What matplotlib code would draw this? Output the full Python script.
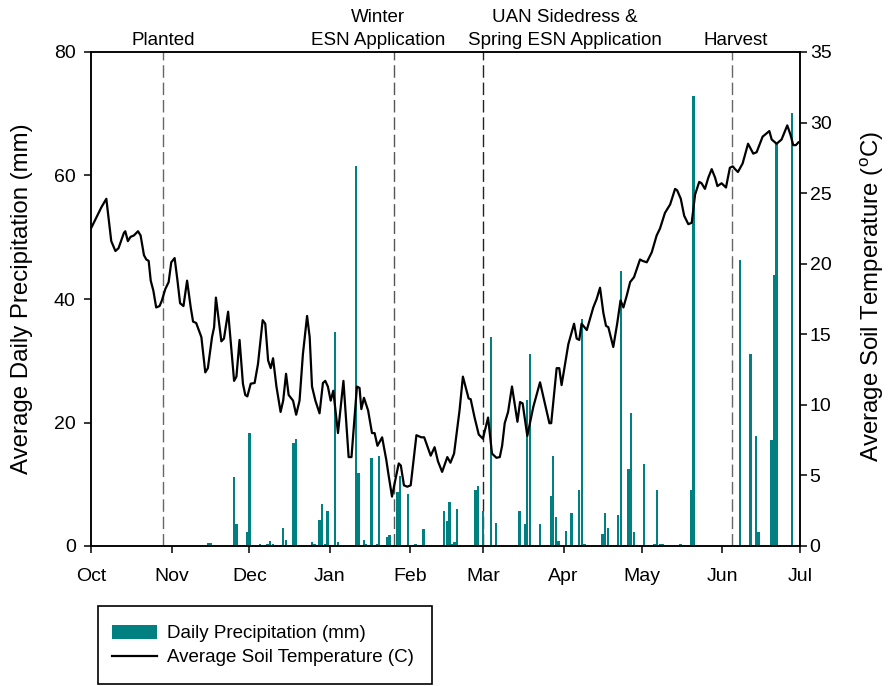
import matplotlib
matplotlib.use("Agg")
import matplotlib.pyplot as plt
from matplotlib.patches import Patch, Rectangle
from matplotlib.lines import Line2D

plt.rcParams["font.family"] = ["Liberation Sans", "DejaVu Sans"]
plt.rcParams["mathtext.default"] = "regular"

# Season runs Oct 1 (day 0) to Jul 1 (day 273)
month_days = [0, 31, 61, 92, 123, 151, 182, 212, 243, 273]
month_labels = ["Oct", "Nov", "Dec", "Jan", "Feb", "Mar", "Apr", "May", "Jun", "Jul"]

# Daily precipitation (mm) by day of season
precip_day = [45, 46, 55, 56, 60, 61, 65, 68, 69, 70, 74, 75, 78, 79, 85, 86, 88, 89,
              90, 91, 92, 94, 95, 102, 103, 105, 106, 108, 110, 111, 114, 115, 118,
              119, 122, 125, 128, 136, 137, 138, 139, 140, 141, 148, 149, 151, 154,
              156, 165, 167, 168, 169, 173, 177, 178, 179, 180, 183, 185, 188, 189,
              190, 197, 198, 199, 203, 204, 207, 208, 209, 213, 217, 218, 219, 220,
              227, 228, 231, 232, 250, 254, 256, 257, 262, 263, 264, 270]
precip_mm = [0.5, 0.5, 11.2, 3.5, 2.3, 18.3, 0.4, 0.3, 0.8, 0.3, 2.9, 1.0, 16.7, 17.3,
             0.7, 0.3, 4.2, 6.8, 0.3, 5.7, 0.2, 34.7, 0.6, 61.5, 11.9, 1.0, 0.3, 14.2,
             0.3, 14.5, 1.5, 1.8, 8.8, 11.3, 8.4, 0.3, 2.7, 5.7, 4.1, 7.1, 0.4, 0.7,
             6.0, 9.1, 9.7, 5.7, 33.8, 3.8, 5.6, 3.6, 23.6, 31.1, 3.6, 8.1, 14.5, 4.75,
             0.8, 2.5, 5.3, 9.0, 36.8, 0.3, 2.0, 5.3, 2.9, 5.0, 44.6, 12.4, 21.6, 2.3,
             13.3, 0.3, 9.1, 0.3, 0.3, 0.4, 0.2, 9.0, 72.8, 46.3, 31.1, 17.8, 2.3,
             17.1, 43.9, 65.2, 70.1]

# Average soil temperature (C) by day of season
temp_day = [0.0, 4.0, 5.9, 7.8, 9.4, 10.6, 12.7, 13.2, 14.2, 15.2, 16.5, 18.1, 19.1,
            20.4, 21.3, 22.2, 23.0, 24.0, 25.1, 26.4, 27.3, 28.6, 29.9, 30.9, 32.2,
            33.3, 34.3, 35.6, 37.0, 38.4, 39.3, 40.5, 42.5, 44.0, 45.0, 46.6, 47.4,
            48.1, 50.2, 51.2, 52.8, 55.1, 56.0, 57.2, 58.5, 59.4, 60.2, 61.5, 63.0,
            64.3, 66.1, 67.1, 68.2, 69.2, 70.1, 71.4, 73.0, 74.0, 75.1, 76.1, 77.8,
            79.0, 80.3, 81.6, 83.2, 84.2, 85.1, 86.4, 88.0, 89.3, 90.2, 91.2, 92.3,
            93.3, 95.1, 97.2, 99.2, 100.3, 102.4, 103.4, 104.1, 105.1, 106.7, 108.2,
            109.2, 110.3, 112.1, 113.7, 114.6, 115.9, 117.2, 118.5, 119.3, 120.5,
            121.8, 123.1, 125.3, 127.2, 128.3, 130.8, 132.3, 133.6, 135.2, 137.2,
            138.4, 139.8, 141.9, 143.2, 145.4, 146.2, 147.7, 149.3, 150.9, 152.9,
            154.4, 156.1, 157.4, 158.3, 159.3, 160.6, 162.1, 164.2, 165.2, 166.2,
            168.0, 170.3, 172.9, 176.5, 177.2, 179.3, 180.3, 181.2, 183.8, 186.0,
            187.0, 188.0, 188.9, 190.9, 193.4, 194.7, 196.0, 197.3, 198.3, 199.2,
            201.1, 202.6, 203.9, 205.0, 206.3, 207.6, 209.1, 210.1, 211.4, 212.4,
            214.0, 215.9, 217.8, 219.1, 221.0, 223.0, 224.9, 225.7, 227.1, 228.4,
            230.0, 231.3, 232.6, 234.2, 235.1, 236.4, 237.7, 239.0, 240.3, 241.2,
            242.8, 244.5, 246.0, 247.1, 248.0, 249.1, 250.9, 253.0, 255.0, 256.3,
            258.6, 259.9, 261.2, 262.1, 264.0, 265.9, 268.1, 269.4, 270.4, 271.4,
            272.4]
temp_c = [22.5, 24.0, 24.6, 21.6, 20.9, 21.1, 22.2, 22.3, 21.6, 21.9, 22.0, 22.3, 22.0,
          20.6, 20.3, 20.2, 18.8, 18.1, 16.9, 17.0, 17.4, 18.2, 18.7, 20.1, 20.4,
          18.8, 17.2, 17.0, 18.8, 16.9, 15.9, 15.8, 14.8, 12.3, 12.6, 14.8, 15.5,
          17.6, 14.5, 14.7, 16.6, 11.7, 12.0, 14.6, 11.5, 10.7, 10.6, 11.5, 11.55,
          12.9, 16.0, 15.75, 13.15, 12.6, 13.3, 11.3, 9.5, 10.3, 12.2, 10.7, 10.3,
          9.3, 10.3, 13.6, 16.3, 14.8, 11.3, 10.3, 9.4, 11.55, 11.7, 11.3, 10.3,
          11.0, 8.0, 11.7, 6.3, 6.3, 11.3, 11.2, 9.7, 10.5, 9.6, 8.0,
          8.0, 7.1, 7.7, 6.1, 5.0, 3.5, 4.7, 5.85, 5.7, 4.3,
          4.2, 4.3, 7.85, 7.7, 7.7, 6.4, 7.0, 6.0, 5.25, 6.3,
          5.9, 6.55, 9.6, 12.0, 10.45, 10.4, 9.1, 7.9, 7.6, 9.1,
          6.55, 6.25, 6.3, 7.1, 8.7, 9.5, 11.3, 8.8, 10.2, 10.1,
          7.8, 9.85, 11.6, 8.7, 8.7, 12.6, 12.6, 11.4, 14.3, 15.75,
          14.7, 14.6, 15.75, 15.3, 16.9, 17.5, 18.3, 16.5, 15.6, 15.5,
          14.1, 15.75, 17.4, 16.9, 17.75, 18.7, 19.05, 19.6, 20.3, 20.2,
          20.1, 20.8, 22.0, 22.5, 23.6, 24.2, 25.3, 25.2, 24.6, 23.4,
          22.8, 22.9, 24.9, 25.8, 25.7, 25.3, 26.1, 26.7, 26.1, 25.5,
          25.7, 25.4, 26.8, 26.9, 26.7, 26.5, 27.1, 28.5, 27.8, 27.9,
          29.0, 29.2, 29.4, 28.8, 28.5, 28.8, 29.8, 29.1, 28.4, 28.4,
          28.6]

# Management events (day of season) and their captions
event_day = [27.8, 116.5, 151.0, 247.0]
event_color = ["#666666", "#555555", "#222222", "#666666"]
event_text = ["Planted", "Winter\nESN Application",
              "UAN Sidedress &\nSpring ESN Application", "Harvest"]
event_text_x = [27.8, 110.5, 182.5, 248.4]

teal = "#008080"
W, H = 891, 686

fig = plt.figure(figsize=(W / 100, H / 100), dpi=100)
ax = fig.add_axes([91 / W, 1 - 546 / H, 709 / W, 494 / H])
ax2 = ax.twinx()

for d, c in zip(event_day, event_color):
    ax.axvline(d, color=c, lw=1.0, dashes=(9, 3.5), zorder=1)

ax.bar(precip_day, precip_mm, width=0.9, color=teal, edgecolor="none", zorder=2)
ax2.plot(temp_day, temp_c, color="black", lw=1.6, zorder=3)

ax.set_xlim(0, 273)
ax.set_ylim(0, 80)
ax2.set_ylim(0, 35)
ax.set_xticks(month_days)
ax.set_xticklabels(month_labels)
ax.set_yticks([0, 20, 40, 60, 80])
ax2.set_yticks([0, 5, 10, 15, 20, 25, 30, 35])

for a in (ax, ax2):
    for s in a.spines.values():
        s.set_linewidth(1.1)
    a.tick_params(width=1.1, length=5, labelsize=14, direction="out")
ax.tick_params(axis="x", pad=11)
ax.tick_params(axis="y", pad=6)
ax2.tick_params(axis="y", pad=2)

fig.text(22 / W, 1 - 299 / H, "Average Daily Precipitation (mm)", rotation=90,
         ha="center", va="center", fontsize=17.3)
fig.text(872 / W, 1 - 297 / H, "Average Soil Temperature ($^{o}$C)", rotation=90,
         ha="center", va="center", fontsize=17.3)

for x, t in zip(event_text_x, event_text):
    ax.annotate(t, xy=(x, 1.0), xycoords=("data", "axes fraction"),
                xytext=(0, 2.5), textcoords="offset points",
                ha="center", va="bottom", fontsize=13.5, linespacing=1.45)

# Legend entries without their own frame, boxed by a separate rectangle
handles = [Patch(facecolor=teal, edgecolor="none"),
           Line2D([], [], color="black", lw=1.6)]
fig.legend(handles, ["Daily Precipitation (mm)", "Average Soil Temperature (C)"],
           loc="center left", bbox_to_anchor=(112 / W, 1 - 645.5 / H),
           frameon=False, fontsize=13.5, borderpad=0, borderaxespad=0,
           handlelength=2.4, handleheight=0.8, handletextpad=0.55,
           labelspacing=0.35)
fig.add_artist(Rectangle((97.7 / W, 2 / H), (432 - 97.7) / W, 78 / H,
                         transform=fig.transFigure, fill=False,
                         edgecolor="black", lw=1.2))

fig.savefig("out.png", dpi=100)
